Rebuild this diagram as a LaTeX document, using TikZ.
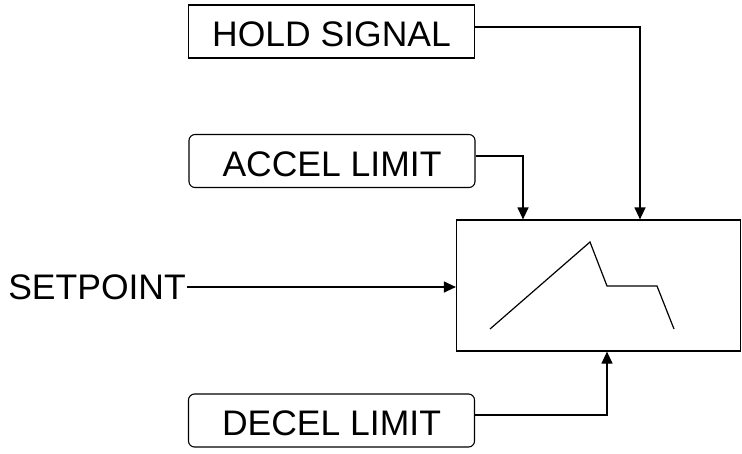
\documentclass[tikz,border=0pt]{standalone}
\usepackage{fontspec}
\setmainfont{Liberation Sans}
\usetikzlibrary{arrows.meta}
\begin{document}
\begin{tikzpicture}[x=1pt,y=-1pt,
  every node/.style={font=\fontsize{35.5}{40}\selectfont},
  inbox/.style={draw,line width=1.1pt,minimum width=286pt,minimum height=53pt,inner sep=0pt,text height=30pt,text depth=0pt},
  rbox/.style={inbox,rounded corners=6pt},
  wire/.style={line width=1.2pt,-{Triangle[length=12pt,width=11pt]}}]
\useasboundingbox (0,0) rectangle (742,453);
\node[inbox] (hold) at (331.5,31.5) {HOLD SIGNAL};
\node[rbox] (accel) at (332,161) {ACCEL LIMIT};
\node[rbox] (decel) at (331.5,420.5) {DECEL LIMIT};
\node[draw,line width=1.2pt,minimum width=284pt,minimum height=131pt,inner sep=0pt] (ramp) at (598.5,285.5) {};
\node[anchor=east,inner sep=0pt,text height=25pt,text depth=0pt] (sp) at (186,287) {SETPOINT};
\draw[wire] ([yshift=4.5pt]hold.east) -| ([xshift=41.5pt]ramp.north);
\draw[wire] ([yshift=5pt]accel.east) -| ([xshift=-75.5pt]ramp.north);
\draw[wire] ([yshift=5.5pt]decel.east) -| ([xshift=8.5pt]ramp.south);
\draw[wire] (sp.east) ++(1pt,0) -- (ramp.west |- 0,287);
\draw[line width=1.2pt] (490,329) -- (590,242) -- (607,286) -- (657,286) -- (674,329);
\end{tikzpicture}
\end{document}
